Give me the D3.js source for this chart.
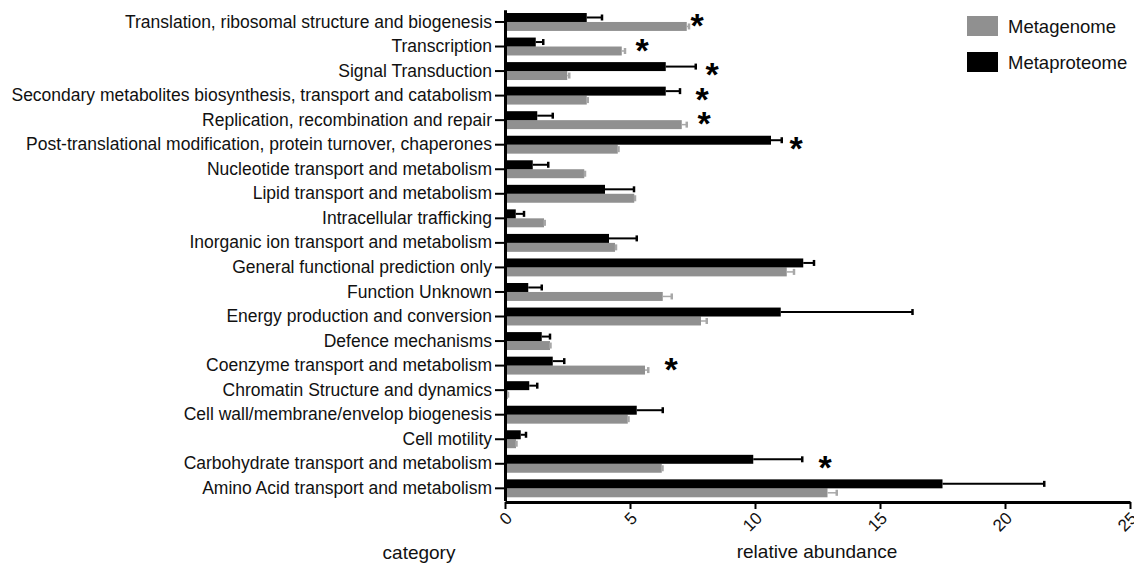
<!DOCTYPE html>
<html>
<head>
<meta charset="utf-8">
<script src="https://cdn.jsdelivr.net/npm/d3@7"></script>
<style>
  body { margin: 0; background: #fff; }
  text { font-family: "Liberation Sans", Arial, sans-serif; }
</style>
</head>
<body>
<script>
// COG categories, top to bottom
let categories = [
    "Translation, ribosomal structure and biogenesis",
    "Transcription",
    "Signal Transduction",
    "Secondary metabolites biosynthesis, transport and catabolism",
    "Replication, recombination and repair",
    "Post-translational modification, protein turnover, chaperones",
    "Nucleotide transport and metabolism",
    "Lipid transport and metabolism",
    "Intracellular trafficking",
    "Inorganic ion transport and metabolism",
    "General functional prediction only",
    "Function Unknown",
    "Energy production and conversion",
    "Defence mechanisms",
    "Coenzyme transport and metabolism",
    "Chromatin Structure and dynamics",
    "Cell wall/membrane/envelop biogenesis",
    "Cell motility",
    "Carbohydrate transport and metabolism",
    "Amino Acid transport and metabolism"
];

let metaproteome    = [3.27, 1.23, 6.43, 6.43, 1.29, 10.64, 1.11, 4.0, 0.43, 4.16, 11.93, 0.93, 11.03, 1.47, 1.91, 0.97, 5.27, 0.63, 9.93, 17.5];
let metaproteomeErr = [0.61, 0.30, 1.20, 0.57, 0.62, 0.43, 0.62, 1.16, 0.33, 1.11, 0.43, 0.54, 5.27, 0.33, 0.46, 0.32, 1.04, 0.21, 1.96, 4.07];
let metagenome      = [7.27, 4.67, 2.49, 3.27, 7.07, 4.51, 3.17, 5.17, 1.56, 4.4, 11.27, 6.31, 7.84, 1.8, 5.6, 0.11, 4.91, 0.44, 6.27, 12.9];
let metagenomeErr   = [0.09, 0.13, 0.08, 0.04, 0.20, 0.03, 0.03, 0.03, 0.03, 0.04, 0.29, 0.36, 0.23, 0.02, 0.13, 0.01, 0.03, 0.02, 0.03, 0.37];

// significance markers: category and the value where the star sits
let starCategories = [0, 1, 2, 3, 4, 5, 14, 18];
let starValues     = [7.68, 5.48, 8.28, 7.88, 7.96, 11.64, 6.64, 12.8];

let xTicks = [0, 5, 10, 15, 20, 25];
let seriesNames = ["Metagenome", "Metaproteome"];

let width = 1134;
let height = 564;
let grey = "#909090";

let svg = d3.select("body").append("svg")
    .attr("width", width)
    .attr("height", height);

let x = d3.scaleLinear()
    .domain([0, 25])
    .range([505, 1130]);

let y = d3.scaleBand()
    .domain(categories)
    .range([9.7, 500.6])
    .paddingInner(0.27)
    .paddingOuter(0.135);

let sub = d3.scaleBand()
    .domain(["Metaproteome", "Metagenome"])
    .range([0, y.bandwidth()]);

let rows = categories.map((c, i) => ({
    cat: c,
    prot: metaproteome[i], protErr: metaproteomeErr[i],
    gen: metagenome[i], genErr: metagenomeErr[i]
}));

// bars
svg.selectAll(".bar-gen")
    .data(rows)
    .join("rect")
    .attr("class", "bar-gen")
    .attr("x", x(0))
    .attr("y", d => y(d.cat) + sub("Metagenome"))
    .attr("width", d => x(d.gen) - x(0))
    .attr("height", sub.bandwidth())
    .attr("fill", grey);

svg.selectAll(".bar-prot")
    .data(rows)
    .join("rect")
    .attr("class", "bar-prot")
    .attr("x", x(0))
    .attr("y", d => y(d.cat) + sub("Metaproteome"))
    .attr("width", d => x(d.prot) - x(0))
    .attr("height", sub.bandwidth())
    .attr("fill", "#000");

// error bars (positive side only)
function errorBars(cls, key, errKey, series, color, w) {
    let g = svg.selectAll("." + cls)
        .data(rows)
        .join("g")
        .attr("class", cls);
    let cy = d => y(d.cat) + sub(series) + sub.bandwidth() / 2;
    g.append("line")
        .attr("x1", d => x(d[key]))
        .attr("x2", d => x(d[key] + d[errKey]))
        .attr("y1", cy)
        .attr("y2", cy)
        .attr("stroke", color)
        .attr("stroke-width", w);
    g.append("line")
        .attr("x1", d => x(d[key] + d[errKey]))
        .attr("x2", d => x(d[key] + d[errKey]))
        .attr("y1", d => cy(d) - 3)
        .attr("y2", d => cy(d) + 3)
        .attr("stroke", color)
        .attr("stroke-width", 2.5);
}
errorBars("err-prot", "prot", "protErr", "Metaproteome", "#000", 2);
errorBars("err-gen", "gen", "genErr", "Metagenome", "#a8a8a8", 1.5);

// stars
svg.selectAll(".star")
    .data(starCategories)
    .join("text")
    .attr("class", "star")
    .attr("x", (d, i) => x(starValues[i]))
    .attr("y", d => y(categories[d]) + y.bandwidth() / 2 + 15)
    .attr("text-anchor", "middle")
    .attr("font-size", 34)
    .attr("font-weight", "bold")
    .text("*");

// axes
let yAxis = svg.append("g")
    .attr("transform", `translate(${x(0)},0)`)
    .call(d3.axisLeft(y).tickSize(10).tickSizeOuter(0).tickPadding(3));
yAxis.selectAll("text")
    .attr("font-size", 17.5)
    .attr("font-family", "Liberation Sans, Arial, sans-serif")
    .attr("fill", "#111");
yAxis.selectAll("line").attr("stroke-width", 2);
yAxis.select(".domain").attr("stroke-width", 3);

let xAxis = svg.append("g")
    .attr("transform", "translate(0,502)")
    .call(d3.axisBottom(x).tickValues(xTicks).tickSize(7).tickSizeOuter(0).tickPadding(4));
xAxis.select(".domain").attr("stroke-width", 3);
xAxis.selectAll("line").attr("stroke-width", 2);
// rotate labels around tick position
xAxis.selectAll(".tick text")
    .attr("font-size", 17)
    .attr("font-family", "Liberation Sans, Arial, sans-serif")
    .attr("fill", "#111")
    .attr("text-anchor", "end")
    .attr("x", 0)
    .attr("y", 0)
    .attr("dx", "0.1em")
    .attr("dy", "0.7em")
    .attr("transform", "translate(-2,10) rotate(-45)");

// axis titles
svg.append("text")
    .attr("x", 419)
    .attr("y", 559)
    .attr("text-anchor", "middle")
    .attr("font-size", 19)
    .attr("fill", "#111")
    .text("category");

svg.append("text")
    .attr("x", 817)
    .attr("y", 558)
    .attr("text-anchor", "middle")
    .attr("font-size", 19)
    .attr("fill", "#111")
    .text("relative abundance");

// legend
let legend = svg.append("g")
    .attr("transform", "translate(967,16)");
legend.selectAll("rect")
    .data(seriesNames)
    .join("rect")
    .attr("x", 0)
    .attr("y", (d, i) => 36 * i)
    .attr("width", 31)
    .attr("height", 20)
    .attr("fill", (d, i) => i === 0 ? grey : "#000");
legend.selectAll("text")
    .data(seriesNames)
    .join("text")
    .attr("x", 41)
    .attr("y", (d, i) => 36 * i + 17)
    .attr("font-size", 18.5)
    .attr("fill", "#111")
    .text(d => d);
</script>
</body>
</html>
